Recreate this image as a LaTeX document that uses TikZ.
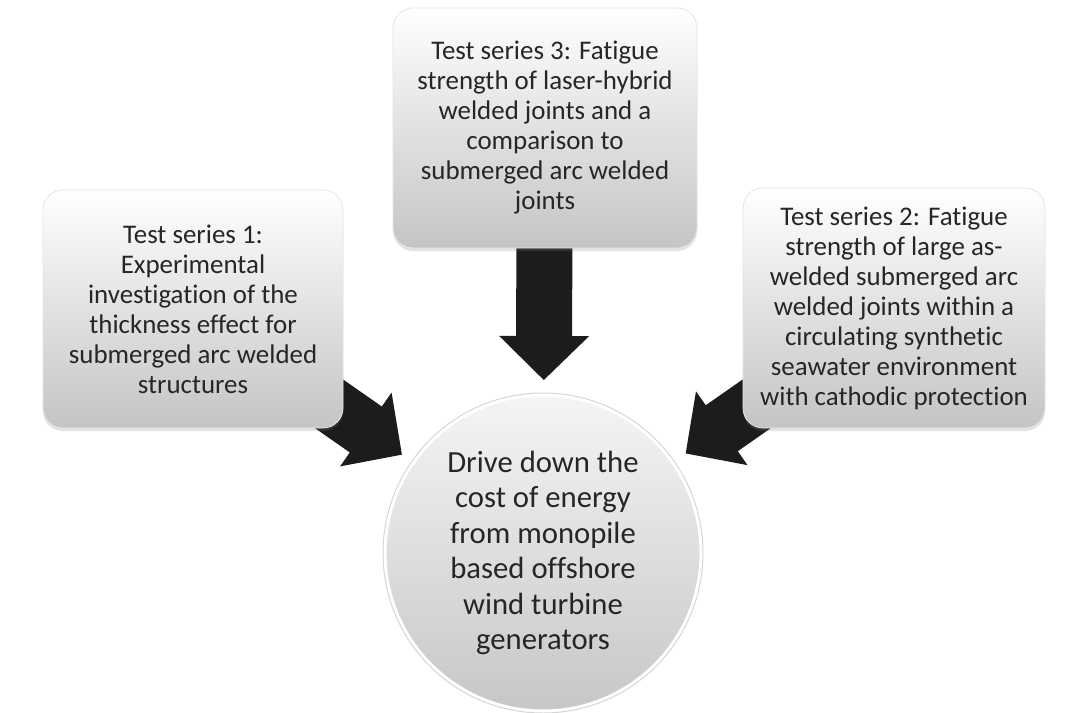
\documentclass[tikz,border=0pt]{standalone}
\usepackage{fontspec}
\setmainfont{Carlito}[Ligatures=NoCommon]
\usetikzlibrary{calc,shadows}
\definecolor{txt}{HTML}{262626}
\definecolor{arrowc}{HTML}{1C1C1C}
\pgfdeclarelayer{bg}
\pgfsetlayers{bg,main}
\newcommand{\blockarr}[2]{% #1 = source node, #2 = tip coordinate
  \coordinate (#2h) at ($(#2)!44pt!(#1.center)$);
  \fill[blockarrow] ($(#1.center)!28pt!90:(#2)$) -- ($(#2h)!28pt!90:(#2)$)
     -- ($(#2h)!45pt!90:(#2)$) -- (#2) -- ($(#2h)!45pt!-90:(#2)$)
     -- ($(#2h)!28pt!-90:(#2)$) -- ($(#1.center)!28pt!-90:(#2)$) -- cycle;
}
\begin{document}
\begin{tikzpicture}[x=1pt,y=1pt,
  tbox/.style={rectangle, rounded corners=20pt, inner sep=0pt,
    top color=white, bottom color=black!23, draw=black!10, line width=0.8pt,
    text=txt, align=center, font=\fontsize{26.9}{30}\selectfont,
    drop shadow={shadow xshift=0pt, shadow yshift=-3pt, opacity=0.22}},
  hub/.style={circle, inner sep=0pt, minimum size=316pt,
    top color=white!96!black, bottom color=black!22, draw=white, line width=3pt,
    text=txt, align=center, font=\fontsize{30.7}{35.5}\selectfont},
  blockarrow/.style={fill=arrowc}]
\useasboundingbox (0,0) rectangle (1081,-712);

\node[tbox, minimum width=304pt, minimum height=240pt] (b3) at (545,-128)
  {Test series 3: Fatigue\\strength of laser-hybrid\\welded joints and a\\comparison to\\submerged arc welded\\joints};
\node[tbox, minimum width=300pt, minimum height=238pt] (b1) at (193,-309)
  {Test series 1:\\Experimental\\investigation of the\\thickness effect for\\submerged arc welded\\structures};
\node[tbox, minimum width=302pt, minimum height=240pt] (b2) at (894,-308)
  {Test series 2: Fatigue\\strength of large as-\\welded submerged arc\\welded joints within a\\circulating synthetic\\seawater environment\\with cathodic protection};
\node[hub] (c) at (543,-553)
  {Drive down the\\cost of energy\\from monopile\\based offshore\\wind turbine\\generators};
\draw[black!16, line width=1pt] (c.center) circle (160pt);

\coordinate (t1) at ($(c.center)!172pt!(b1.center)$);
\coordinate (t2) at ($(c.center)!174pt!(b2.center)$);
\coordinate (t3) at ($(c.center)!173pt!(b3.center)$);
\begin{pgfonlayer}{bg}
  \fill[white] (0,0) rectangle (1081,-712);
  \blockarr{b1}{t1}
  \blockarr{b2}{t2}
  \blockarr{b3}{t3}
\end{pgfonlayer}
\end{tikzpicture}
\end{document}
